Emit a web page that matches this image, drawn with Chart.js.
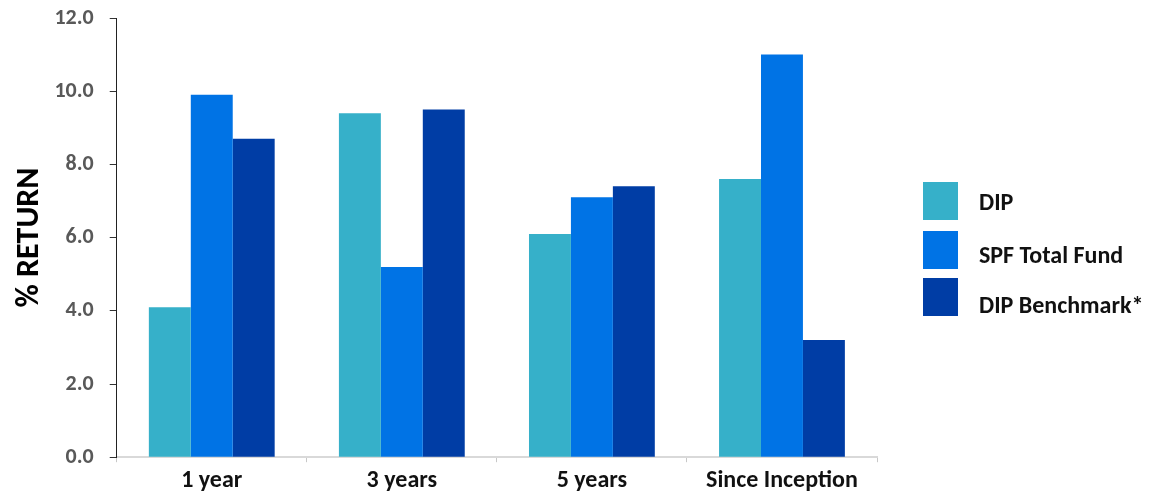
<!DOCTYPE html>
<html>
<head>
<meta charset="utf-8">
<script src="https://cdn.jsdelivr.net/npm/chart.js@4.4.0/dist/chart.umd.min.js"></script>
<style>
  html, body { margin: 0; padding: 0; background: #ffffff; }
  #wrap { position: relative; width: 1168px; height: 495px; }
</style>
</head>
<body>
<div id="wrap"><canvas id="c" width="1168" height="495"></canvas></div>
<script>
const categories = ["1 year", "3 years", "5 years", "Since Inception"];
const dipValues = [4.1, 9.4, 6.1, 7.6];
const spfValues = [9.9, 5.2, 7.1, 11.0];
const benchmarkValues = [8.7, 9.5, 7.4, 3.2];
const seriesNames = ["DIP", "SPF Total Fund", "DIP Benchmark*"];
const seriesColors = ["#36B0C9", "#0073E5", "#003DA5"];
const yTicks = [0, 2, 4, 6, 8, 10, 12];

const FONT = "Carlito, Calibri, Lato, 'Liberation Sans', Arial, sans-serif";

// Legend drawn at the right side (layout constants only)
const legendPlugin = {
  id: 'sideLegend',
  afterDraw(chart) {
    const ctx = chart.ctx;
    const boxX = 923, boxW = 35, boxH = 38;
    const boxTops = [182, 231, 278];
    const textBaselines = [210, 263, 313];
    ctx.save();
    ctx.font = "bold 24px " + FONT;
    ctx.textAlign = 'left';
    ctx.textBaseline = 'alphabetic';
    chart.data.datasets.forEach((ds, i) => {
      ctx.fillStyle = ds.backgroundColor;
      ctx.fillRect(boxX, boxTops[i], boxW, boxH);
      ctx.fillStyle = '#111111';
      ctx.fillText(ds.label, 979, textBaselines[i]);
    });
    ctx.restore();
  }
};

new Chart(document.getElementById('c'), {
  type: 'bar',
  data: {
    labels: categories,
    datasets: [
      { label: seriesNames[0], data: dipValues, backgroundColor: seriesColors[0] },
      { label: seriesNames[1], data: spfValues, backgroundColor: seriesColors[1] },
      { label: seriesNames[2], data: benchmarkValues, backgroundColor: seriesColors[2] }
    ]
  },
  plugins: [legendPlugin],
  options: {
    responsive: false,
    animation: false,
    devicePixelRatio: 1,
    layout: { padding: { left: 11, right: 291, top: 0, bottom: 0 } },
    datasets: { bar: { categoryPercentage: 0.662, barPercentage: 1.0 } },
    plugins: {
      tooltip: { enabled: false },
      legend: { display: false }
    },
    scales: {
      x: {
        afterFit: (scale) => { scale.height -= 4; },
        grid: { display: true, drawOnChartArea: false, color: '#C8C8C8', tickLength: 5, offset: true },
        border: { display: true, color: '#D9D9D9', width: 2 },
        ticks: { color: '#111111', font: { family: FONT, size: 24, weight: 'bold' }, padding: 4 }
      },
      y: {
        min: 0,
        max: 12,
        afterFit: (scale) => { scale.width -= 16; scale.paddingTop = 18; },
        afterBuildTicks: (axis) => { axis.ticks = yTicks.map(v => ({ value: v })); },
        grid: { display: true, drawOnChartArea: false, color: '#333333', tickLength: 7 },
        border: { display: true, color: '#222222', width: 1 },
        ticks: {
          color: '#595959',
          font: { family: FONT, size: 22, weight: 'bold' },
          padding: 16,
          callback: (v) => Number(v).toFixed(1)
        },
        title: {
          display: true,
          text: '% RETURN',
          color: '#000000',
          font: { family: FONT, size: 32, weight: 'bold' },
          padding: { top: 0, bottom: 5 }
        }
      }
    }
  }
});
</script>
</body>
</html>
